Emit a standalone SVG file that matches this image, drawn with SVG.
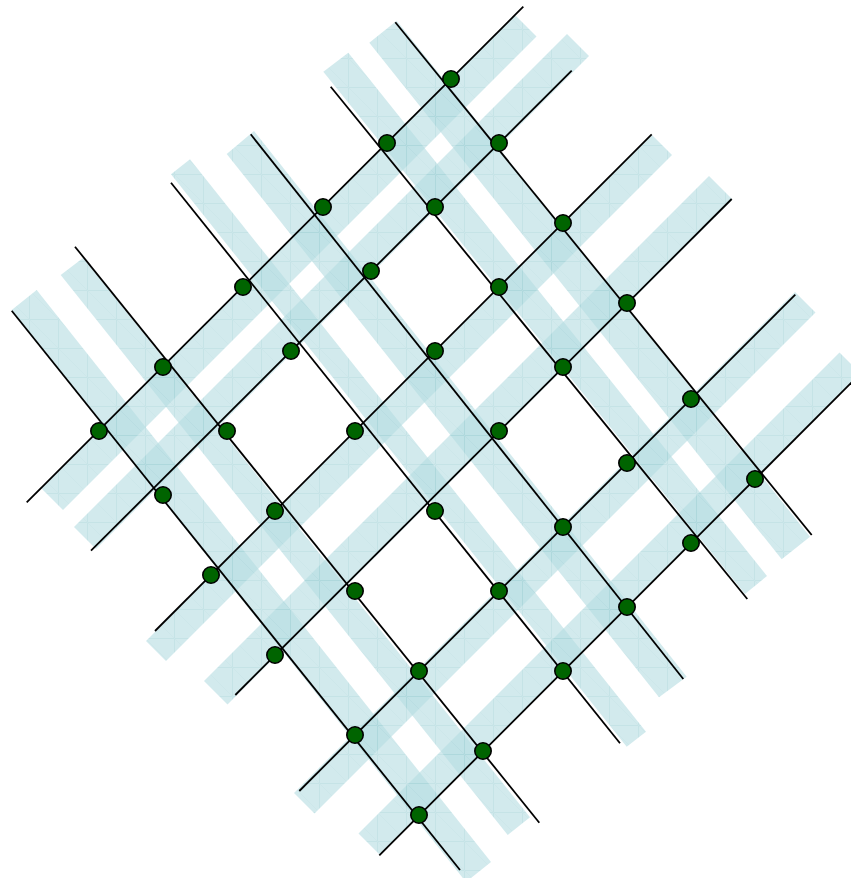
<svg xmlns="http://www.w3.org/2000/svg" width="851" height="878" viewBox="0 0 851 878">
<style>
.band{fill:url(#tex);opacity:0.6}
.ln{stroke:#000;stroke-width:1.8;fill:none;stroke-linecap:butt}
.dot{fill:#006400;stroke:#000;stroke-width:1.6}
</style>
<defs>
<pattern id="tex" patternUnits="userSpaceOnUse" width="29" height="29">
<rect width="29" height="29" fill="#b4dce1"/>
<path d="M0 0.5H29M0.5 0V29" stroke="#9fd0d6" stroke-width="1"/>
<path d="M0 0L29 29" stroke="#a9d5db" stroke-width="0.8"/>
</pattern>
</defs>
<rect width="851" height="878" fill="#fff"/>
<g id="bands">
<polygon class="band" points="41.5,488.5 63,510 536.5,36.5 515,15"/>
<polygon class="band" points="74,527 96,549 589,56 567,34"/>
<polygon class="band" points="146,641 166,661 672,155 652,135"/>
<polygon class="band" points="204,681 227.5,704.5 732.5,199.5 709,176"/>
<polygon class="band" points="294,793 314.5,813.5 815.5,312.5 795,292"/>
<polygon class="band" points="358.5,833.5 379.5,854.5 860.5,373.5 839.5,352.5"/>
<polygon class="band" points="11.7,310 36.7,290 491,862 466,882"/>
<polygon class="band" points="60.7,275 83.3,257.7 530,817.3 507.7,835"/>
<polygon class="band" points="171,174.3 190,159.3 646,731.7 626.7,746.7"/>
<polygon class="band" points="226.7,154 254,131 686.7,676.7 659,697.3"/>
<polygon class="band" points="323.3,71.7 348.3,52.7 767,576 745,594"/>
<polygon class="band" points="369.3,42.7 396.7,20.7 810,536.7 781.7,559.3"/>
</g>
<g id="connectors">
<line class="ln" x1="26.7" y1="502.3" x2="523.3" y2="6.7"/>
<line class="ln" x1="91" y1="550.7" x2="571.7" y2="70.7"/>
<line class="ln" x1="155" y1="631" x2="651.7" y2="134.3"/>
<line class="ln" x1="235.3" y1="695" x2="731.7" y2="199"/>
<line class="ln" x1="299.3" y1="791" x2="795.3" y2="294.7"/>
<line class="ln" x1="379.3" y1="855.3" x2="852" y2="382"/>
<line class="ln" x1="11.7" y1="310.7" x2="460" y2="870"/>
<line class="ln" x1="75" y1="246.7" x2="539.3" y2="822.7"/>
<line class="ln" x1="171" y1="182.7" x2="620" y2="743.3"/>
<line class="ln" x1="250.7" y1="134.3" x2="683.3" y2="679"/>
<line class="ln" x1="330.7" y1="86.7" x2="747.3" y2="599"/>
<line class="ln" x1="395.3" y1="22.3" x2="811.7" y2="535"/>
</g>
<g id="nodes">
<g id="n1"><circle class="dot" cx="451" cy="79" r="8.2"/></g>
<g id="n2"><circle class="dot" cx="387" cy="143" r="8.2"/></g>
<g id="n3"><circle class="dot" cx="499" cy="143" r="8.2"/></g>
<g id="n4"><circle class="dot" cx="323" cy="207" r="8.2"/></g>
<g id="n5"><circle class="dot" cx="435" cy="207" r="8.2"/></g>
<g id="n6"><circle class="dot" cx="563" cy="223" r="8.2"/></g>
<g id="n7"><circle class="dot" cx="243" cy="287" r="8.2"/></g>
<g id="n8"><circle class="dot" cx="371" cy="271" r="8.2"/></g>
<g id="n9"><circle class="dot" cx="499" cy="287" r="8.2"/></g>
<g id="n10"><circle class="dot" cx="627" cy="303" r="8.2"/></g>
<g id="n11"><circle class="dot" cx="163" cy="367" r="8.2"/></g>
<g id="n12"><circle class="dot" cx="291" cy="351" r="8.2"/></g>
<g id="n13"><circle class="dot" cx="435" cy="351" r="8.2"/></g>
<g id="n14"><circle class="dot" cx="563" cy="367" r="8.2"/></g>
<g id="n15"><circle class="dot" cx="691" cy="399" r="8.2"/></g>
<g id="n16"><circle class="dot" cx="99" cy="431" r="8.2"/></g>
<g id="n17"><circle class="dot" cx="227" cy="431" r="8.2"/></g>
<g id="n18"><circle class="dot" cx="355" cy="431" r="8.2"/></g>
<g id="n19"><circle class="dot" cx="499" cy="431" r="8.2"/></g>
<g id="n20"><circle class="dot" cx="627" cy="463" r="8.2"/></g>
<g id="n21"><circle class="dot" cx="755" cy="479" r="8.2"/></g>
<g id="n22"><circle class="dot" cx="163" cy="495" r="8.2"/></g>
<g id="n23"><circle class="dot" cx="275" cy="511" r="8.2"/></g>
<g id="n24"><circle class="dot" cx="435" cy="511" r="8.2"/></g>
<g id="n25"><circle class="dot" cx="563" cy="527" r="8.2"/></g>
<g id="n26"><circle class="dot" cx="691" cy="543" r="8.2"/></g>
<g id="n27"><circle class="dot" cx="211" cy="575" r="8.2"/></g>
<g id="n28"><circle class="dot" cx="355" cy="591" r="8.2"/></g>
<g id="n29"><circle class="dot" cx="499" cy="591" r="8.2"/></g>
<g id="n30"><circle class="dot" cx="627" cy="607" r="8.2"/></g>
<g id="n31"><circle class="dot" cx="275" cy="655" r="8.2"/></g>
<g id="n32"><circle class="dot" cx="419" cy="671" r="8.2"/></g>
<g id="n33"><circle class="dot" cx="563" cy="671" r="8.2"/></g>
<g id="n34"><circle class="dot" cx="355" cy="735" r="8.2"/></g>
<g id="n35"><circle class="dot" cx="483" cy="751" r="8.2"/></g>
<g id="n36"><circle class="dot" cx="419" cy="815" r="8.2"/></g>
</g>
</svg>
